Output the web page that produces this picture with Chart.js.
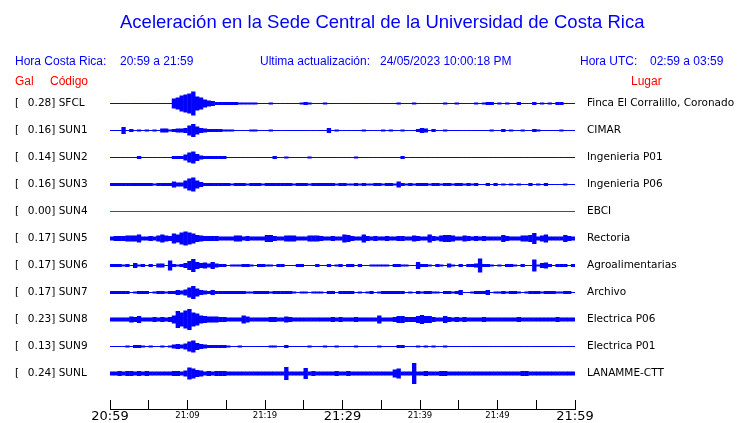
<!DOCTYPE html>
<html>
<head>
<meta charset="utf-8">
<script src="https://cdn.jsdelivr.net/npm/chart.js@4"></script>
<style>
  body { margin: 0; background: #fff; }
  #wrap { position: relative; width: 740px; height: 423px; overflow: hidden; background: #fff; }
  canvas { position: absolute; left: 0; top: 0; }
  .t { position: absolute; font-family: "Liberation Sans", Arial, sans-serif; font-size: 12px; line-height: 1; white-space: pre; color: #0000ff; }
  .red { color: #ff0000; }
</style>
</head>
<body>
<div id="wrap">
  <canvas id="c" width="740" height="423"></canvas>
  <div class="t" style="left:120px;top:12.8px;font-size:18.5px">Aceleración en la Sede Central de la Universidad de Costa Rica</div>
  <div class="t" style="left:15px;top:54.8px">Hora Costa Rica:</div>
  <div class="t" style="left:120px;top:54.8px">20:59 a 21:59</div>
  <div class="t" style="left:260px;top:54.8px">Ultima actualización:</div>
  <div class="t" style="left:380px;top:54.8px">24/05/2023 10:00:18 PM</div>
  <div class="t" style="left:580px;top:54.8px">Hora UTC:</div>
  <div class="t" style="left:650px;top:54.8px">02:59 a 03:59</div>
  <div class="t red" style="left:15px;top:74.8px">Gal</div>
  <div class="t red" style="left:50px;top:74.8px">Código</div>
  <div class="t red" style="left:631px;top:74.8px">Lugar</div>
</div>
<script>
// ---- datos ----
// cada columna = medio minuto, valor = altura pico a pico de la traza (px)
const BIN = 0.5;
const timeLabels = ['20:59', '', '21:09', '', '21:19', '', '21:29', '', '21:39', '', '21:49', '', '21:59'];
const codes = ['SFCL', 'SUN1', 'SUN2', 'SUN3', 'SUN4', 'SUN5', 'SUN6', 'SUN7', 'SUN8', 'SUN9', 'SUNL'];
const gals = ['0.28', '0.16', '0.14', '0.16', '0.00', '0.17', '0.17', '0.17', '0.23', '0.13', '0.24'];
const places = ['Finca El Corralillo, Coronado', 'CIMAR', 'Ingenieria P01', 'Ingenieria P06', 'EBCI', 'Rectoria',
  'Agroalimentarias', 'Archivo', 'Electrica P06', 'Electrica P01', 'LANAMME-CTT'];

const sfcl = [
  1,1,1,1,1,1,1,1,1,1,1,1,1,1,1,1,10,12,16,18,
  20,24,14,12,8,6,5,3,3,3,3,3,3,2,2,2,2,2,1,1,
  1,2,1,1,1,1,1,1,1,2,3,2,1,1,1,2,1,1,1,1,
  1,1,1,1,1,1,1,1,1,1,1,1,1,1,2,1,1,1,2,1,
  1,1,1,1,1,1,2,1,1,2,1,1,1,1,2,1,2,3,3,1,
  2,1,2,1,1,3,1,1,1,3,1,2,1,2,1,3,3,1,1,1];
const sun1 = [
  1,1,1,7,1,3,1,2,1,2,1,2,1,4,4,2,3,4,4,5,
  10,13,8,5,4,3,3,3,3,2,2,2,1,1,1,1,2,2,1,1,
  1,2,1,1,1,1,1,1,1,1,1,1,1,1,1,1,5,1,2,1,
  1,1,1,1,1,2,1,1,1,1,2,1,2,1,1,2,1,1,1,3,
  5,4,1,3,1,1,2,1,1,1,1,1,1,1,1,1,1,1,2,1,
  1,3,1,2,1,1,2,1,1,3,2,1,1,1,1,1,2,1,1,1];
const sun2 = [
  1,1,1,1,1,1,1,3,1,1,1,1,1,1,1,1,3,3,3,6,
  10,12,7,4,3,3,3,3,3,3,1,1,1,1,1,1,1,1,1,1,
  1,1,3,1,1,2,1,1,1,1,1,2,1,1,1,1,1,1,1,1,
  1,1,1,2,1,1,1,1,1,1,1,1,1,1,1,3,1,1,1,1,
  1,1,1,1,1,1,1,1,1,1,1,1,1,1,1,1,1,1,1,1,
  1,1,1,1,1,1,1,1,1,1,1,1,1,1,1,1,1,1,1,1];
const sun3 = [
  3,3,3,3,3,3,3,3,3,3,3,2,3,3,3,3,6,4,4,8,
  12,14,8,5,3,3,3,3,3,3,3,2,3,3,3,2,3,3,3,2,
  3,3,3,3,3,3,3,2,3,3,3,2,3,3,3,3,3,3,2,3,
  3,2,2,3,2,3,2,2,3,3,2,3,3,2,6,3,2,3,2,3,
  3,3,2,3,3,2,3,3,2,3,3,2,3,2,3,1,1,3,1,3,
  1,2,1,2,1,2,1,1,3,1,2,1,3,1,1,1,1,2,1,1];
const sun4 = [
  1,1,1,1,1,1,1,1,1,1,1,1,1,1,1,1,1,1,1,1,
  1,1,1,1,1,1,1,1,1,1,1,1,1,1,1,1,1,1,1,1,
  1,1,1,1,1,1,1,1,1,1,1,1,1,1,1,1,1,1,1,1,
  1,1,1,1,1,1,1,1,1,1,1,1,1,1,1,1,1,1,1,1,
  1,1,1,1,1,1,1,1,1,1,1,1,1,1,1,1,1,1,1,1,
  1,1,1,1,1,1,1,1,1,1,1,1,1,1,1,1,1,1,1,1];
const sun5 = [
  4,5,5,5,6,6,6,8,4,4,5,4,6,8,6,5,10,8,12,14,
  12,10,7,6,5,5,5,5,4,4,4,4,6,6,4,5,4,4,4,4,
  7,7,5,4,4,6,6,6,4,4,4,6,6,6,5,4,4,5,4,4,
  8,7,5,4,4,8,5,4,5,4,4,5,4,4,5,5,4,4,6,5,
  4,4,8,5,4,6,7,7,6,4,4,6,5,4,5,4,5,4,4,4,
  4,7,5,4,4,4,6,6,7,11,4,6,8,4,4,4,4,7,5,4];
const sun6 = [
  3,3,3,2,3,1,5,2,3,1,3,1,4,4,1,10,3,2,3,5,
  9,13,7,5,6,4,7,4,3,3,1,2,2,2,3,3,2,1,3,3,
  2,2,1,3,3,1,1,1,3,3,1,1,1,3,1,1,3,1,2,3,
  1,3,3,1,3,1,1,2,2,2,2,2,1,3,3,2,2,1,1,7,
  3,3,2,1,3,2,1,4,2,1,3,1,3,3,4,14,3,3,2,1,
  2,1,3,3,2,1,3,1,1,12,2,5,6,3,1,3,3,3,1,3];
const sun7 = [
  3,3,3,3,3,1,2,3,3,3,1,2,3,3,2,3,3,5,4,6,
  10,13,8,5,4,3,5,3,3,3,3,3,3,3,3,2,2,3,3,3,
  3,2,3,3,3,3,3,2,1,2,2,1,2,2,2,1,3,3,1,3,
  3,3,3,1,2,1,2,3,1,2,3,3,3,3,3,3,1,2,1,3,
  2,3,3,2,2,1,3,3,2,3,5,1,1,2,3,3,3,5,1,2,
  2,3,2,3,3,2,1,2,3,3,3,2,3,3,3,2,2,3,3,1];
const sun8 = [
  4,4,4,4,4,6,5,7,4,4,4,5,4,5,4,5,8,17,14,18,
  21,14,12,8,7,6,6,6,5,5,4,4,4,4,8,6,4,4,4,4,
  4,5,5,4,4,6,5,4,4,4,4,4,4,4,4,4,4,5,4,5,
  4,4,4,5,4,4,4,4,4,8,4,4,4,5,7,7,5,5,5,7,
  9,7,7,5,4,4,7,5,4,5,4,5,4,4,4,4,5,4,4,4,
  4,4,4,4,4,5,4,4,4,4,4,4,4,4,4,5,4,4,4,4];
const sun9 = [
  1,1,1,1,2,1,3,3,2,1,2,1,1,2,1,2,4,5,4,6,
  10,12,7,5,4,3,3,3,3,3,2,1,1,2,1,1,1,1,1,1,
  1,2,2,1,1,3,1,1,1,1,1,2,1,1,1,2,1,1,2,1,
  1,1,1,2,1,1,1,1,1,2,1,1,1,1,3,3,1,1,1,2,
  1,2,1,2,1,1,2,1,1,1,1,1,1,1,1,1,1,1,1,1,
  1,1,1,1,1,1,1,1,1,1,1,1,1,1,1,1,1,1,1,1];
const sunl = [
  4,4,5,4,5,5,4,5,4,5,4,4,4,4,4,4,5,5,4,6,
  12,10,7,6,4,5,4,5,5,5,4,4,4,4,4,4,4,4,4,4,
  4,4,4,4,4,13,4,4,4,4,11,4,5,4,4,4,4,4,5,4,
  4,5,4,4,4,4,4,4,4,4,4,4,4,8,10,4,4,4,21,4,
  4,5,4,4,4,5,5,4,4,4,4,4,4,4,4,4,4,4,4,4,
  4,4,4,4,4,4,5,5,4,4,4,4,4,4,4,4,4,4,4,4];

const traces = [sfcl, sun1, sun2, sun3, sun4, sun5, sun6, sun7, sun8, sun9, sunl];

// ---- layout ----
const ROW = 27;          // separación entre trazas (unidades del eje = px)
const FIRST_ROW = 305.5;
const centers = codes.map((_, i) => FIRST_ROW - ROW * i);

const datasets = traces.map((h, i) => ({
  data: h.map((v, k) => ({ x: (k + 0.5) * BIN, y: [centers[i] - v / 2, centers[i] + v / 2] })),
  backgroundColor: codes[i] === 'SUN4' ? '#ff0000' : '#0000ff'
}));

const tickFont = ctx => ctx.index % 6 === 0
  ? { family: 'DejaVu Sans', size: 13, lineHeight: 15 / 13 }
  : { family: 'DejaVu Sans', size: 8.5, lineHeight: 14 / 8.5 };

// quitar los márgenes automáticos para que el área quede fija
const noPad = s => { s.paddingTop = 0; s.paddingBottom = 0; s.paddingLeft = 0; s.paddingRight = 0; };

new Chart(document.getElementById('c'), {
  type: 'bar',
  data: { datasets },
  options: {
    responsive: false,
    animation: false,
    layout: { padding: { left: 15, top: 85, right: 0, bottom: 0 } },
    datasets: {
      bar: { grouped: false, barPercentage: 1.12, categoryPercentage: 1, inflateAmount: 0, borderWidth: 0 }
    },
    plugins: { legend: { display: false }, tooltip: { enabled: false } },
    scales: {
      x: {
        type: 'linear', min: 0, max: 60, offset: false,
        grid: { display: true, drawOnChartArea: false, tickLength: -9, color: '#000', offset: false },
        border: { display: true, color: '#000', width: 1 },
        ticks: {
          stepSize: 5, autoSkip: false, maxRotation: 0, padding: 9, color: '#000',
          callback: (v, i) => timeLabels[i],
          font: tickFont
        },
        afterFit: s => { s.height = 14; noPad(s); }
      },
      y: {
        position: 'left', min: 0, max: 324,
        grid: { display: false, drawTicks: false },
        border: { display: false },
        afterBuildTicks: s => { s.ticks = centers.map(v => ({ value: v })); },
        ticks: {
          crossAlign: 'far', padding: 0, color: '#000',
          font: { family: 'DejaVu Sans', size: 10.5 },
          callback: (v, i) => '[  \u2009' + gals[i] + '] ' + codes[i]
        },
        afterFit: s => { s.width = 95; noPad(s); }
      },
      y2: {
        position: 'right', min: 0, max: 324,
        grid: { display: false, drawTicks: false },
        border: { display: false },
        afterBuildTicks: s => { s.ticks = centers.map(v => ({ value: v })); },
        ticks: {
          crossAlign: 'near', padding: 12, color: '#000',
          font: { family: 'DejaVu Sans', size: 10.5 },
          callback: (v, i) => places[i]
        },
        afterFit: s => { s.width = 165; noPad(s); }
      }
    }
  }
});
</script>
</body>
</html>
